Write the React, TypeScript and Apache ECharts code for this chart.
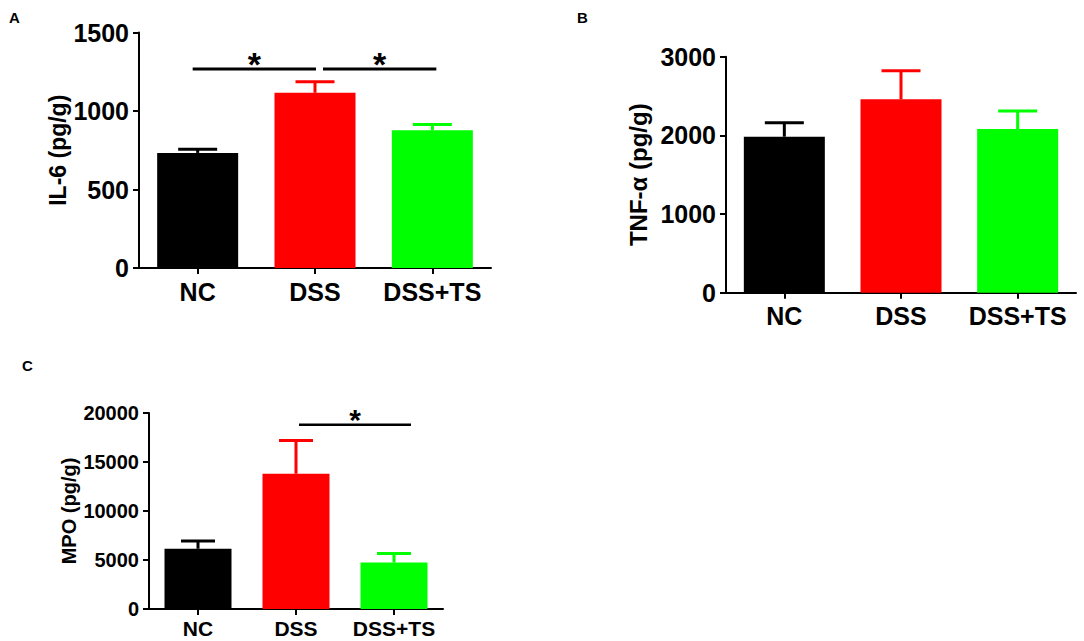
import React, { useEffect, useRef } from "react";
import * as echarts from "echarts";

const categories = ["NC", "DSS", "DSS+TS"];
const barColors = ["#000000", "#ff0000", "#00ff00"];

const il6Mean = [733, 1116, 878];
const il6Upper = [757, 1186, 914];
const il6Ticks = [0, 500, 1000, 1500];
const il6Sig = [
  [0, 1, 1267],
  [1, 2, 1267],
];

const tnfMean = [1983, 2458, 2081];
const tnfUpper = [2161, 2822, 2310];
const tnfTicks = [0, 1000, 2000, 3000];

const mpoMean = [6150, 13800, 4750];
const mpoUpper = [6930, 17200, 5670];
const mpoTicks = [0, 5000, 10000, 15000, 20000];
const mpoSig = [[1, 2, 18800]];

const FONT = '"Liberation Sans", Arial, Helvetica, sans-serif';

// pixel offsets of significance line ends relative to category centres (style)
const sigOffsetsA = [
  [-5, 1],
  [8, 4],
];
const sigOffsetsC = [[3, 17]];

function errRender(capWidth: number, lineWidth: number) {
  return (params: any, api: any) => {
    const idx = api.value(0);
    const top = api.coord([idx, api.value(2)]);
    const base = api.coord([idx, api.value(1)]);
    const color = barColors[params.dataIndex];
    return {
      type: "group",
      children: [
        {
          type: "line",
          shape: { x1: top[0], y1: base[1], x2: top[0], y2: top[1] },
          style: { stroke: color, lineWidth },
        },
        {
          type: "line",
          shape: {
            x1: top[0] - capWidth / 2,
            y1: top[1],
            x2: top[0] + capWidth / 2,
            y2: top[1],
          },
          style: { stroke: color, lineWidth },
        },
      ],
    };
  };
}

function sigRender(offsets: number[][], lineWidth: number, fontSize: number, lift: number) {
  return (params: any, api: any) => {
    const i = params.dataIndex;
    const a = api.coord([api.value(0), api.value(2)]);
    const b = api.coord([api.value(1), api.value(2)]);
    const x1 = a[0] + offsets[i][0];
    const x2 = b[0] + offsets[i][1];
    const y = a[1];
    return {
      type: "group",
      children: [
        {
          type: "line",
          shape: { x1, y1: y, x2, y2: y },
          style: { stroke: "#000", lineWidth },
        },
        {
          type: "text",
          x: (x1 + x2) / 2,
          y: y - lift,
          style: {
            text: "*",
            fontSize,
            fontWeight: "bold",
            fill: "#000",
            align: "center",
            verticalAlign: "middle",
            fontFamily: FONT,
          },
        },
      ],
    };
  };
}

function xAxisFor(gridIndex: number, fontSize: number, margin: number) {
  return {
    type: "category",
    gridIndex,
    data: categories,
    boundaryGap: true,
    axisLine: { show: true, lineStyle: { color: "#000", width: 2 } },
    axisTick: { show: true, alignWithLabel: true, length: 6, lineStyle: { color: "#000", width: 2 } },
    axisLabel: {
      color: "#000",
      fontSize,
      fontWeight: "bold",
      fontFamily: FONT,
      margin,
      interval: 0,
    },
    splitLine: { show: false },
  };
}

function yAxisFor(
  gridIndex: number,
  ticks: number[],
  name: string,
  fontSize: number,
  nameSize: number,
  nameGap: number
) {
  return {
    type: "value",
    gridIndex,
    min: ticks[0],
    max: ticks[ticks.length - 1],
    interval: ticks[1] - ticks[0],
    name,
    nameLocation: "middle",
    nameGap,
    nameRotate: 90,
    nameTextStyle: { color: "#000", fontSize: nameSize, fontWeight: "bold", fontFamily: FONT },
    axisLine: { show: true, lineStyle: { color: "#000", width: 2 } },
    axisTick: { show: true, length: 6, lineStyle: { color: "#000", width: 2 } },
    axisLabel: {
      color: "#000",
      fontSize,
      fontWeight: "bold",
      fontFamily: FONT,
      margin: 10,
      formatter: (v: number) => String(v),
    },
    splitLine: { show: false },
  };
}

function barSeries(idx: number, mean: number[], barWidth: number) {
  return {
    type: "bar",
    xAxisIndex: idx,
    yAxisIndex: idx,
    barWidth,
    data: mean.map((v, i) => ({ value: v, itemStyle: { color: barColors[i] } })),
    z: 2,
  };
}

function errSeries(idx: number, mean: number[], upper: number[], cap: number, lw: number) {
  return {
    type: "custom",
    xAxisIndex: idx,
    yAxisIndex: idx,
    renderItem: errRender(cap, lw),
    encode: { x: 0, y: [1, 2] },
    data: categories.map((_, i) => [i, mean[i], upper[i]]),
    z: 3,
  };
}

function sigSeries(idx: number, sig: number[][], offsets: number[][], lw: number, fs: number, lift: number) {
  return {
    type: "custom",
    xAxisIndex: idx,
    yAxisIndex: idx,
    renderItem: sigRender(offsets, lw, fs, lift),
    encode: { x: [0, 1], y: 2 },
    data: sig,
    z: 4,
    clip: false,
  };
}

const letterStyle = { fontSize: 15, fontWeight: "bold", fill: "#000", fontFamily: FONT };

export default function App() {
  const ref = useRef<HTMLDivElement>(null);
  useEffect(() => {
    if (!ref.current) return;
    const chart = echarts.init(ref.current, undefined, { renderer: "svg" });
    const option: any = {
      animation: false,
      backgroundColor: "#ffffff",
      grid: [
        { left: 139, top: 32.5, width: 352, height: 235.5 },
        { left: 726, top: 56.7, width: 350, height: 236 },
        { left: 149, top: 413, width: 294, height: 196 },
      ],
      xAxis: [xAxisFor(0, 25, 11), xAxisFor(1, 25, 11), xAxisFor(2, 21, 9)],
      yAxis: [
        yAxisFor(0, il6Ticks, "IL-6 (pg/g)", 25, 23, 64),
        yAxisFor(1, tnfTicks, "TNF-α (pg/g)", 25, 24, 76),
        yAxisFor(2, mpoTicks, "MPO (pg/g)", 20, 20, 65),
      ],
      series: [
        barSeries(0, il6Mean, 81),
        errSeries(0, il6Mean, il6Upper, 39, 3),
        sigSeries(0, il6Sig, sigOffsetsA, 3, 34, 5),
        barSeries(1, tnfMean, 81),
        errSeries(1, tnfMean, tnfUpper, 39, 3),
        barSeries(2, mpoMean, 67),
        errSeries(2, mpoMean, mpoUpper, 34, 3),
        sigSeries(2, mpoSig, sigOffsetsC, 2.5, 30, 5),
      ],
      graphic: [
        { type: "text", left: 9, top: 10, style: { text: "A", ...letterStyle } },
        { type: "text", left: 577, top: 10, style: { text: "B", ...letterStyle } },
        { type: "text", left: 22, top: 358, style: { text: "C", ...letterStyle } },
      ],
    };
    chart.setOption(option);
    return () => chart.dispose();
  }, []);
  return (
    <div
      ref={ref}
      style={{ position: "fixed", left: 0, top: 0, width: 1084, height: 641, background: "#fff" }}
    />
  );
}
